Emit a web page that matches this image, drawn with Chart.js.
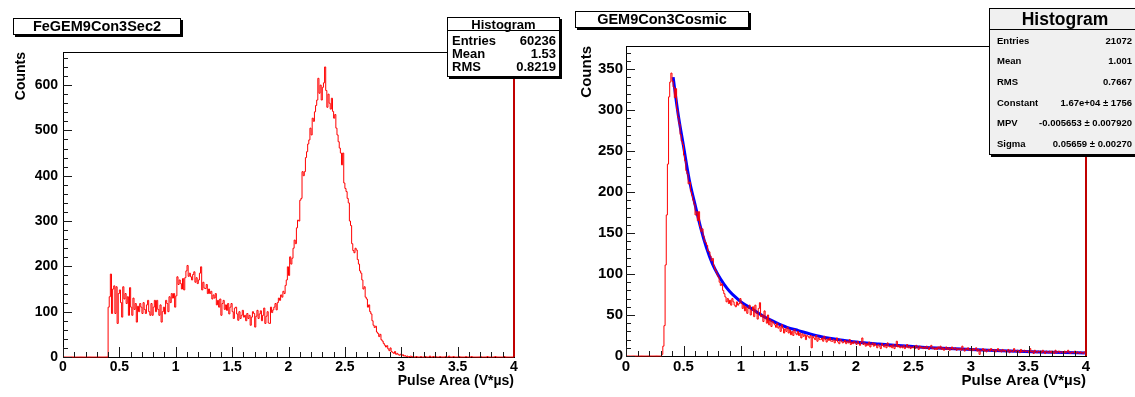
<!DOCTYPE html>
<html>
<head>
<meta charset="utf-8">
<script src="https://cdn.jsdelivr.net/npm/chart.js@4/dist/chart.umd.min.js"></script>
<style>
  body { margin: 0; width: 1135px; height: 397px; position: relative; overflow: hidden; background: #fff;
         font-family: 'Liberation Sans', Arial, Helvetica, sans-serif; }
  canvas { position: absolute; top: 0; }
  .box { position: absolute; box-sizing: border-box; border: 1px solid #000; box-shadow: 2px 2px 0 #000;
         background: #fff; font-weight: bold; color: #000; }
  .name { font-size: 14.5px; line-height: 15px; text-align: center; }
  .head { position: absolute; left: 0; right: 0; top: 0; text-align: center; border-bottom: 1px solid #000; }
  .row { position: absolute; display: flex; justify-content: space-between; white-space: nowrap; }
  #statsFe { left: 447px; top: 17px; width: 113px; height: 60px; font-size: 13px; }
  #statsFe .head { height: 12px; line-height: 13px; }
  #statsFe .row { left: 4px; right: 3px; line-height: 13px; }
  #statsCos { left: 989px; top: 8px; width: 152px; height: 147px; background: #f0f0f0; font-size: 9.5px; }
  #statsCos .head { height: 20px; line-height: 21px; font-size: 17.5px; }
  #statsCos .row { left: 7px; right: 8px; line-height: 12px; }
</style>
</head>
<body>
<canvas id="feChart" width="565" height="397" style="left:0"></canvas>
<canvas id="cosChart" width="570" height="397" style="left:565px"></canvas>

<div class="box name" style="left:13px; top:18px; width:168px; height:17px;">FeGEM9Con3Sec2</div>
<div class="box name" style="left:575px; top:11px; width:174px; height:17px;">GEM9Con3Cosmic</div>
<div class="box" id="statsFe"></div>
<div class="box" id="statsCos"></div>

<script>
const binWidth = 0.01;
const xTickLabels = ['0', '0.5', '1', '1.5', '2', '2.5', '3', '3.5', '4'];
const feYTickLabels = ['0', '100', '200', '300', '400', '500', '600'];
const cosYTickLabels = ['0', '50', '100', '150', '200', '250', '300', '350'];
const xTitle = 'Pulse Area (V*\u00b5s)';

// FeGEM9Con3Sec2, bins of 0.01 from 0 to 4
const feCounts = [
  0,0,0,0,0,0,0,0,0,0, 0,0,0,0,0,0,0,0,0,0,
  0,0,0,0,0,0,0,0,0,0, 0,0,0,0,0,0,0,0,0,0,
  0,110,133,183,96,150,157,96,155,74,
  140,148,120,88,155,128,140,118,133,92,
  153,110,92,130,105,118,77,112,100,118,
  110,96,120,105,96,115,125,100,92,118,
  92,110,125,100,125,105,92,115,77,100,
  110,95,125,118,100,133,120,140,130,140,
  110,135,177,160,170,162,150,173,148,175,
  190,202,178,185,177,170,182,188,165,175,
  162,170,185,199,148,165,152,151,160,140,
  150,140,145,128,137,130,140,115,125,110,
  128,92,118,125,105,115,103,118,95,110,
  118,100,85,108,110,95,81,100,85,92,
  103,88,92,80,96,85,92,70,88,100,
  96,66,90,103,85,95,102,80,92,108,
  74,90,100,75,74,110,98,104,110,118,
  104,120,130,125,137,132,145,140,158,170,
  199,180,221,205,218,240,258,250,285,302,
  300,346,350,409,400,409,440,453,470,479,
  505,490,527,520,541,555,567,615,582,600,
  567,595,605,640,588,551,580,560,547,571,
  542,527,535,505,490,475,461,450,424,450,
  384,372,365,350,340,300,290,250,235,230,
  240,236,215,205,190,185,170,150,155,132,
  128,110,115,100,95,80,70,65,68,55,
  52,45,50,38,35,30,26,22,25,18,
  14,20,12,10,8,12,6,8,5,4,
  6,3,5,2,3,1,2,0,1,2,
  0,1,0,0,1,0,0,0,1,0,
  0,0,1,0,0,0,2,0,0,1,
  0,1,0,0,0,1,0,0,0,0,
  1,0,0,2,0,0,0,1,0,0,
  0,0,1,0,0,0,0,0,1,0,
  0,0,0,1,0,0,0,0,0,0,
  0,1,0,0,0,0,0,1,0,0,
  0,0,0,0,1,0,0,0,0,0,
  0,0,1,0,0,0,0,0,0,0
];

// GEM9Con3Cosmic, bins of 0.01 from 0 to 4
const cosCounts = [
  0,0,0,0,0,0,0,0,0,0, 0,0,0,0,0,0,0,0,0,0, 0,0,0,0,0,0,0,0,0,0,
  0,0,2,12,37,111,172,234,316,334,
  345,335,328,315,326,300,291,283,270,262,
  258,245,238,226,222,210,212,201,196,190,
  185,172,176,165,176,158,152,155,146,140,
  138,135,128,127,122,116,119,110,106,103,
  99,96,90,86,88,80,76,72,66,70,
  64,68,62,70,66,62,60,66,62,64,
  70,64,58,62,55,60,52,58,62,50,
  56,60,48,62,52,45,58,65,48,50,
  42,55,46,40,50,38,44,36,42,40,
  38,35,40,34,36,30,38,34,28,33,
  30,35,28,32,26,30,25,32,28,26,
  30,25,28,22,27,24,26,20,25,24,
  22,25,10,24,22,20,25,18,22,20,
  20,22,18,24,20,17,21,19,22,18,
  18,20,16,19,22,17,15,20,18,16,
  17,19,15,18,16,20,14,17,15,18,
  16,14,18,15,13,17,22,14,16,12,
  15,13,17,11,14,16,12,15,13,10,
  14,12,9,15,13,11,14,10,16,12,
  11,13,10,14,9,12,18,11,13,10,
  12,10,13,9,11,14,10,12,9,11,
  10,12,9,13,11,8,12,10,11,9,
  11,9,12,10,8,11,13,9,10,8,
  10,8,11,9,12,8,10,7,9,11,
  8,10,7,9,11,8,9,10,7,9,
  8,9,7,12,8,6,9,8,10,7,
  8,6,9,7,8,10,6,8,2,7,
  7,9,6,8,5,7,8,6,9,7,
  6,8,5,7,9,6,7,5,8,6,
  7,5,6,8,4,7,6,5,9,6,
  5,7,6,4,8,5,6,7,5,6,
  6,4,9,5,6,3,7,5,4,6,
  5,6,4,7,5,3,6,5,4,6,
  4,6,5,3,7,4,5,6,4,5,
  5,3,6,4,5,7,4,3,5,4,
  4,6,3,5,4,3,5,4,3,5
];

// Landau fit curve
const fitX = [0.41, 0.45, 0.5, 0.55, 0.6, 0.65, 0.7, 0.75, 0.8, 0.85, 0.9, 0.95, 1, 1.1, 1.2, 1.3, 1.4, 1.5,
              1.6, 1.7, 1.8, 1.9, 2, 2.2, 2.4, 2.6, 2.8, 3, 3.2, 3.4, 3.6, 3.8, 3.99];
const fitY = [340, 298, 256, 215, 185, 156, 132, 113, 99, 88, 79, 72, 66, 57, 48, 41, 35, 31,
              27, 23.5, 21, 19, 17, 14.5, 12.5, 10.5, 9, 8, 6.8, 5.8, 5, 4.3, 3.8];

const feStats = [['Entries', '60236'], ['Mean', '1.53'], ['RMS', '0.8219']];
const cosStats = [['Entries', '21072'], ['Mean', '1.001'], ['RMS', '0.7667'],
                  ['Constant', '1.67e+04 \u00b1 1756'], ['MPV', '-0.005653 \u00b1 0.007920'],
                  ['Sigma', '0.05659 \u00b1 0.00270']];

function fillStats(id, rows, firstTop, step) {
  const box = document.getElementById(id);
  let html = '<div class="head">Histogram</div>';
  rows.forEach((r, i) => {
    html += `<div class="row" style="top:${firstTop + i * step}px"><span>${r[0]}</span><span>${r[1]}</span></div>`;
  });
  box.innerHTML = html;
}
fillStats('statsFe', feStats, 16, 13.2);
fillStats('statsCos', cosStats, 25.5, 20.7);

function histPoints(counts) {
  const pts = counts.map((c, i) => ({ x: i * binWidth, y: c }));
  pts.push({ x: counts.length * binWidth, y: counts[counts.length - 1] });
  return pts;
}

// ROOT-like frame: inner tick marks, top line, red right edge
function rootFrame(tk) {
  return {
    id: 'rootFrame',
    afterDraw(chart) {
      const { ctx, chartArea: a, scales: { x, y } } = chart;
      ctx.save();
      ctx.lineWidth = 1;
      ctx.strokeStyle = '#000';
      ctx.beginPath();
      ctx.moveTo(a.left, Math.round(a.top) + 0.5);
      ctx.lineTo(a.right, Math.round(a.top) + 0.5);
      ctx.stroke();

      ctx.strokeStyle = '#1a1a1a';
      ctx.beginPath();
      const nx = Math.round((x.max - x.min) / tk.xMinor);
      for (let k = 0; k <= nx; k++) {
        const px = Math.round(x.getPixelForValue(x.min + k * tk.xMinor)) + 0.5;
        const len = k % tk.xEvery === 0 ? 10 : 5;
        ctx.moveTo(px, a.bottom);
        ctx.lineTo(px, a.bottom - len);
      }
      const ny = Math.floor((y.max - y.min) / tk.yMinor);
      for (let k = 0; k <= ny; k++) {
        const py = Math.round(y.getPixelForValue(y.min + k * tk.yMinor)) + 0.5;
        const len = k % tk.yEvery === 0 ? 9 : 5;
        ctx.moveTo(a.left, py);
        ctx.lineTo(a.left + len, py);
      }
      ctx.stroke();

      ctx.strokeStyle = '#c00000';
      ctx.lineWidth = 2;
      ctx.beginPath();
      ctx.moveTo(a.right, a.bottom);
      ctx.lineTo(a.right, a.top);
      ctx.stroke();
      ctx.restore();
    }
  };
}

function makeChart(id, datasets, cfg) {
  const font = { family: "'Liberation Sans', Arial, sans-serif", weight: 'bold', size: cfg.fontSize };
  return new Chart(document.getElementById(id), {
    type: 'line',
    data: { datasets },
    options: {
      responsive: false,
      animation: false,
      events: [],
      layout: { padding: { top: cfg.top, right: cfg.right, left: 0, bottom: 0 } },
      plugins: { legend: { display: false }, tooltip: { enabled: false } },
      scales: {
        x: {
          type: 'linear', min: 0, max: 4,
          afterFit: s => { s.height = cfg.xAxisH; },
          grid: { display: false, drawTicks: false },
          border: { display: true, color: '#000', width: 1 },
          ticks: { stepSize: 0.5, color: '#000', padding: 2, font, maxRotation: 0, autoSkip: false,
                   callback: (v, i) => xTickLabels[i] },
          title: { display: true, text: xTitle, align: 'end', color: '#000', font, padding: { top: 0, bottom: 7 } }
        },
        y: {
          type: 'linear', min: 0, max: cfg.yMax,
          afterFit: s => { s.width = cfg.yAxisW; },
          grid: { display: false, drawTicks: false },
          border: { display: true, color: '#000', width: 1 },
          ticks: { stepSize: cfg.yStep, includeBounds: false, color: '#000', padding: cfg.yPad, font,
                   callback: (v, i) => cfg.yLabels[i] },
          title: { display: true, text: 'Counts', align: 'end', color: '#000', font, padding: { top: 13, bottom: 0 } }
        }
      }
    },
    plugins: [rootFrame(cfg.frame)]
  });
}

const histStyle = {
  borderColor: '#ff0000', borderWidth: 1, pointRadius: 0, stepped: 'after', fill: false, clip: false
};

makeChart('feChart', [
  Object.assign({ label: 'FeGEM9Con3Sec2', data: histPoints(feCounts) }, histStyle)
], {
  top: 52, right: 51, xAxisH: 40, yAxisW: 63, yMax: 673, yStep: 100, yPad: 5, fontSize: 14,
  yLabels: feYTickLabels,
  frame: { xMinor: 0.1, xEvery: 5, yMinor: 20, yEvery: 5 }
});

makeChart('cosChart', [
  Object.assign({ label: 'GEM9Con3Cosmic', data: histPoints(cosCounts) }, histStyle),
  {
    label: 'landau', data: fitX.map((v, i) => ({ x: v, y: fitY[i] })),
    borderColor: '#0000ff', borderWidth: 3, pointRadius: 0, cubicInterpolationMode: 'monotone', fill: false
  }
], {
  top: 46, right: 49, xAxisH: 41, yAxisW: 61, yMax: 378, yStep: 50, yPad: 3, fontSize: 15,
  yLabels: cosYTickLabels,
  frame: { xMinor: 0.1, xEvery: 5, yMinor: 10, yEvery: 5 }
});
</script>
</body>
</html>
